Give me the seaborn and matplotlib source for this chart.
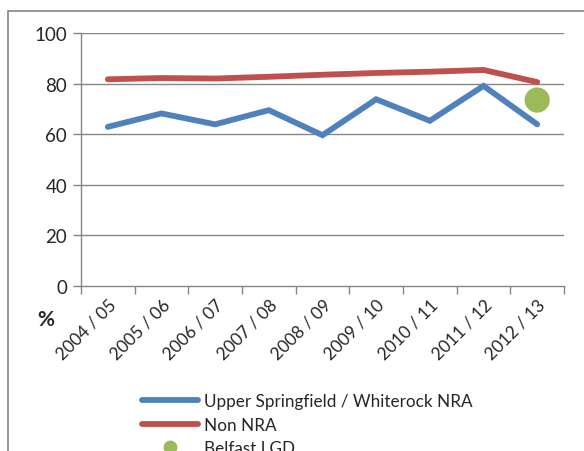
import numpy as np
import pandas as pd
import matplotlib
matplotlib.use("Agg")
import matplotlib.pyplot as plt
from matplotlib.patches import Rectangle
from matplotlib.lines import Line2D
import seaborn as sns

years = ["2004 / 05", "2005 / 06", "2006 / 07", "2007 / 08", "2008 / 09",
         "2009 / 10", "2010 / 11", "2011 / 12", "2012 / 13"]
nra = [62.9, 68.2, 63.9, 69.5, 59.6, 73.8, 65.3, 79.1, 63.9]
non_nra = [81.7, 82.2, 82.0, 82.7, 83.5, 84.2, 84.7, 85.4, 80.6]
belfast_year = "2012 / 13"
belfast_value = 73.5
series_names = ["Upper Springfield / Whiterock NRA", "Non NRA", "Belfast LGD"]
yticks = [0, 20, 40, 60, 80, 100]

sns.set_theme(style="white")
plt.rcParams['font.family'] = ['Lato', 'DejaVu Sans']

c_blue = "#4F81BD"
c_red = "#C0504D"
c_green = "#9BBB59"
c_grid = "#868686"

df = pd.DataFrame({
    "pos": list(range(len(years))) * 2,
    "value": nra + non_nra,
    "series": [series_names[0]] * len(years) + [series_names[1]] * len(years),
})

fig = plt.figure(figsize=(5.84, 4.52), dpi=100)
ax = fig.add_axes([81 / 584, 1 - 287 / 452, (564 - 81) / 584, (287 - 34) / 452])

sns.lineplot(data=df, x="pos", y="value", hue="series",
             palette=[c_blue, c_red], linewidth=4.2, ax=ax, legend=False,
             solid_capstyle="round", solid_joinstyle="miter")
bpos = years.index(belfast_year)
sns.scatterplot(x=[bpos], y=[belfast_value], color=c_green, s=330,
                edgecolor="none", ax=ax, legend=False, zorder=5)

ax.set_xlim(-0.5, len(years) - 0.5)
ax.set_ylim(0, 100)
ax.set_yticks(yticks)
ax.set_yticklabels([str(v) for v in yticks], fontsize=13.5)
for v in yticks[1:]:
    ax.axhline(v, color=c_grid, linewidth=1.0, zorder=0)

ax.set_xticks(np.arange(-0.5, len(years), 1.0))
ax.set_xticklabels([])
ax.set_xticks(np.arange(len(years)), minor=True)
ax.set_xticklabels(years, minor=True, rotation=45, ha="right",
                   rotation_mode="anchor", fontsize=12.5)
ax.tick_params(axis="x", which="minor", length=0, pad=7)
ax.tick_params(axis="x", which="major", length=6, width=1, color=c_grid, direction="out")
ax.tick_params(axis="y", length=6, width=1, color=c_grid, direction="out", pad=4)
ax.xaxis.set_tick_params(which="major", bottom=True)
ax.yaxis.set_tick_params(left=True)
for sp in ["top", "right"]:
    ax.spines[sp].set_visible(False)
for sp in ["left", "bottom"]:
    ax.spines[sp].set_color(c_grid)
    ax.spines[sp].set_linewidth(1.0)
ax.set_xlabel("")
ax.set_ylabel("")

fig.text(46 / 584, 1 - 320 / 452, "%", fontsize=15, fontweight="bold",
         ha="center", va="center")

handles = [Line2D([], [], color=c_blue, linewidth=4.2),
           Line2D([], [], color=c_red, linewidth=4.2),
           Line2D([], [], color=c_green, marker="o", linestyle="none", markersize=9)]
fig.legend(handles, series_names, loc="upper left",
           bbox_to_anchor=(142 / 584, 1 - 394 / 452), frameon=False,
           fontsize=12.3, handlelength=3.3, handletextpad=0.3, labelspacing=0.45,
           borderpad=0, borderaxespad=0)

fig.add_artist(Rectangle((7.5 / 584, -0.2), 1.2, 1.2 - 12 / 452,
                         transform=fig.transFigure, fill=False,
                         edgecolor=c_grid, linewidth=1.2))

fig.savefig("out.png", dpi=100)
